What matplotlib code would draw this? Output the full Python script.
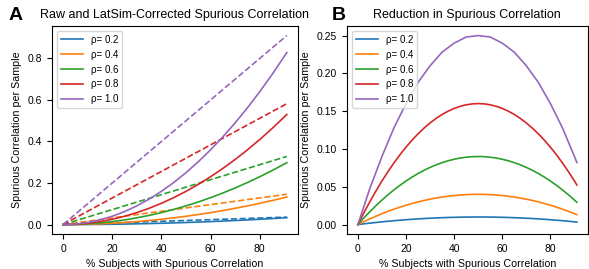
import matplotlib
matplotlib.use('Agg')
import matplotlib.pyplot as plt

plt.rcParams['font.family'] = ['Liberation Sans', 'DejaVu Sans']

rhos = ['0.2', '0.4', '0.6', '0.8', '1.0']
colors = ['#1f77b4', '#ff7f0e', '#2ca02c', '#d62728', '#9467bd']

# % subjects with spurious correlation
pct_ends = [0, 91]
pct5 = [0, 5, 10, 15, 20, 25, 30, 35, 40, 45, 50, 55, 60, 65, 70, 75, 80, 85, 91]
pct25 = [0, 2.5, 5, 7.5, 10, 12.5, 15, 17.5, 20, 22.5, 25, 27.5, 30, 32.5, 35, 37.5,
         40, 42.5, 45, 47.5, 50, 52.5, 55, 57.5, 60, 62.5, 65, 67.5, 70, 72.5, 75,
         77.5, 80, 82.5, 85, 87.5, 90, 91]

# raw spurious correlation (dashed, straight lines)
raw_02 = [0, 0.036]
raw_04 = [0, 0.146]
raw_06 = [0, 0.328]
raw_08 = [0, 0.582]
raw_10 = [0, 0.91]

# LatSim-corrected (solid)
cor_02 = [0, .0001, .0004, .0009, .0016, .0025, .0036, .0049, .0064, .0081, .010, .0121, .0144, .0169, .0196, .0225, .0256, .0289, .0331]
cor_04 = [0, .0004, .0016, .0036, .0064, .010, .0144, .0196, .0256, .0324, .040, .0484, .0576, .0676, .0784, .090, .1024, .1156, .1325]
cor_06 = [0, .0009, .0036, .0081, .0144, .0225, .0324, .0441, .0576, .0729, .090, .1089, .1296, .1521, .1764, .2025, .2304, .2601, .2981]
cor_08 = [0, .0016, .0064, .0144, .0256, .040, .0576, .0784, .1024, .1296, .160, .1936, .2304, .2704, .3136, .360, .4096, .4624, .530]
cor_10 = [0, .0025, .01, .0225, .04, .0625, .09, .1225, .16, .2025, .25, .3025, .36, .4225, .49, .5625, .64, .7225, .828]

# reduction in spurious correlation
red_02 = [0, .0010, .0019, .0028, .0036, .0044, .0051, .0058, .0064, .0070, .0075, .0080, .0084,
          .0088, .0091, .0094, .0096, .0098, .0099, .0100, .0100, .0100, .0099, .0098, .0096,
          .0094, .0091, .0088, .0084, .0080, .0075, .0070, .0064, .0058, .0051, .0044, .0036, .0033]
red_04 = [0, .0039, .0076, .0111, .0144, .0175, .0204, .0231, .0256, .0279, .0300, .0319, .0336,
          .0351, .0364, .0375, .0384, .0391, .0396, .0399, .0400, .0399, .0396, .0391, .0384,
          .0375, .0364, .0351, .0336, .0319, .0300, .0279, .0256, .0231, .0204, .0175, .0144, .0131]
red_06 = [0, .0088, .0171, .0250, .0324, .0394, .0459, .0520, .0576, .0628, .0675, .0718, .0756,
          .0790, .0819, .0844, .0864, .0880, .0891, .0898, .0900, .0898, .0891, .0880, .0864,
          .0844, .0819, .0790, .0756, .0718, .0675, .0628, .0576, .0520, .0459, .0394, .0324, .0295]
red_08 = [0, .0156, .0304, .0444, .0576, .0700, .0816, .0924, .1024, .1116, .1200, .1276, .1344,
          .1404, .1456, .1500, .1536, .1564, .1584, .1596, .1600, .1596, .1584, .1564, .1536,
          .1500, .1456, .1404, .1344, .1276, .1200, .1116, .1024, .0924, .0816, .0700, .0576, .0524]
red_10 = [0, .024, .048, .069, .090, .109, .128, .144, .160, .174, .188, .199, .210,
          .219, .228, .234, .240, .244, .248, .249, .250, .249, .248, .244, .240,
          .234, .228, .219, .210, .199, .188, .174, .160, .144, .128, .109, .090, .082]

raw = [raw_02, raw_04, raw_06, raw_08, raw_10]
cor = [cor_02, cor_04, cor_06, cor_08, cor_10]
red = [red_02, red_04, red_06, red_08, red_10]

fig = plt.figure(figsize=(5.89, 2.69), dpi=100)
axA = fig.add_axes([0.088, 0.13, 0.418, 0.773])
axB = fig.add_axes([0.589, 0.13, 0.409, 0.773])

for r, c, s, d in zip(rhos, colors, cor, raw):
    axA.plot(pct5, s, color=c, lw=1.2, label=f'ρ= {r}')
    axA.plot(pct_ends, d, color=c, lw=1.2, ls='--')

for r, c, d in zip(rhos, colors, red):
    axB.plot(pct25, d, color=c, lw=1.2, label=f'ρ= {r}')

axA.set_title('Raw and LatSim-Corrected Spurious Correlation', fontsize=9)
axB.set_title('Reduction in Spurious Correlation', fontsize=9)

for ax in (axA, axB):
    ax.set_xlabel('% Subjects with Spurious Correlation', fontsize=7.7)
    ax.set_ylabel('Spurious Correlation per Sample', fontsize=7.7)
    ax.tick_params(labelsize=7.5)
    ax.legend(loc='upper left', fontsize=7, handlelength=2.3)

axA.set_yticks([0.0, 0.2, 0.4, 0.6, 0.8])
axB.set_yticks([0.0, 0.05, 0.10, 0.15, 0.20, 0.25])

fig.text(0.015, 0.925, 'A', fontsize=14, fontweight='bold')
fig.text(0.563, 0.925, 'B', fontsize=14, fontweight='bold')

plt.savefig('out.png', dpi=100)
